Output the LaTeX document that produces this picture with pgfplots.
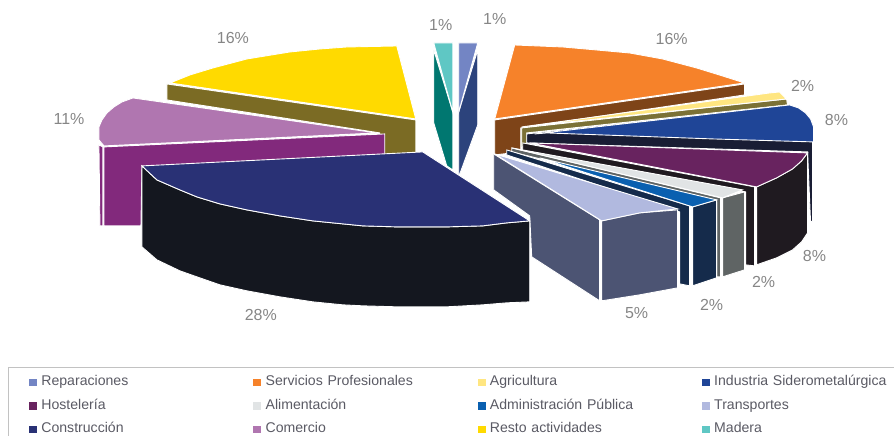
\documentclass[border=0pt]{standalone}
\usepackage{fontspec}
\setmainfont{Liberation Sans}
\usepackage{pgfplots}
\pgfplotsset{compat=1.18}
\definecolor{mad}{HTML}{5FC7C4}\definecolor{mads}{HTML}{007770}
\definecolor{rep}{HTML}{7385C4}\definecolor{reps}{HTML}{2C437C}
\definecolor{ser}{HTML}{F6822A}\definecolor{sers}{HTML}{7E4418}
\definecolor{agr}{HTML}{FFE681}\definecolor{agrs}{HTML}{7B7136}
\definecolor{ind}{HTML}{1F4597}\definecolor{inds}{HTML}{191D34}
\definecolor{hos}{HTML}{68235F}\definecolor{hoss}{HTML}{1F1A20}
\definecolor{ali}{HTML}{E1E4E5}\definecolor{alis}{HTML}{5F6464}
\definecolor{adm}{HTML}{0A60B0}\definecolor{adms}{HTML}{152B4B}
\definecolor{tra}{HTML}{B1B9DF}\definecolor{tras}{HTML}{4C5473}
\definecolor{con}{HTML}{293175}\definecolor{cons}{HTML}{14171F}
\definecolor{com}{HTML}{B076B0}\definecolor{coms}{HTML}{82297C}
\definecolor{res}{HTML}{FFDA00}\definecolor{ress}{HTML}{7B6B24}
\definecolor{lab}{HTML}{868686}\definecolor{legt}{HTML}{5A5A64}
\pgfplotsset{
  poly/.style={fill=#1,draw=white,line width=0.9pt,line join=miter,forget plot,mark=none},
  sw/.style={legend image code/.code={\fill[#1] (0pt,-3.2pt) rectangle (7pt,3.2pt);\path (12pt,0pt);}}
}
\newcommand{\pct}[2]{\node[text=lab,font=\fontsize{16}{18}\selectfont] at (axis cs:#1) {#2};}
\begin{document}
\begin{tikzpicture}
\begin{axis}[
  scale only axis,width=894pt,height=436pt,
  xmin=0,xmax=894,ymin=0,ymax=436,y dir=reverse,
  hide axis,clip=false,
  legend columns=4,
  legend style={overlay,at={(axis cs:29,376)},anchor=north west,draw=none,fill=none,inner sep=0pt,outer sep=0pt,
    font=\fontsize{14.1}{16}\selectfont,text=legt,
    row sep=10.5pt,
    nodes={anchor=west,text width=212pt,inner sep=0pt,outer sep=0pt,text height=10pt,text depth=3pt},
    /tikz/every even column/.append style={column sep=0pt}},
  legend cell align=left,
]
% frame of the legend
\addplot[draw=black!24,line width=1pt,forget plot] coordinates {(9,436)(9,368)(894,368)};
% Madera
\addplot[poly=mads] coordinates {(434,50)(453,112)(453,170)(447,166)(434,123)} --cycle;
\addplot[poly=mad] coordinates {(434,43)(453,43)(453,112)} --cycle;
% Reparaciones
\addplot[poly=reps] coordinates {(478,50)(459,112)(459,177)(478,125)} --cycle;
\addplot[poly=rep] coordinates {(459,43)(478,43)(459,112)} --cycle;
% Servicios Profesionales
\addplot[poly=sers] coordinates {(495,120)(745,84)(745,95)(521,128)(521,152)(495,155)} --cycle;
\addplot[poly=ser] coordinates {(515,45)(563,47)(597,50)(630,53)(663,59)(697,68)(723,76)(745,83)(495,119)} --cycle;
% Agricultura
\addplot[poly=agrs] coordinates {(522,128)(787,99)(788,105)(527,133)(527,145)(522,147)} --cycle;
\addplot[poly=agr] coordinates {(522,127)(770,93)(780,92)(787,99)} --cycle;
% Industria Siderometalurgica
\addplot[poly=inds] coordinates {(527,134)(790,105)(813,142)(813,221)(811,222)(808,152)(527,143)} --cycle;
\addplot[poly=ind] coordinates {(535,134)(790,105)(799,108)(806,113)(811,119)(814,127)(814,142)(713,139)(630,136)(547,133)} --cycle;
% Hosteleria
\addplot[poly=hoss] coordinates {(523,143)(755,187)(755,266)(746,265)(746,192)(523,152)} --cycle;
\addplot[poly=hoss] coordinates {(757,187)(777,178)(793,169)(802,161)(808,153)(808,233)(802,242)(793,250)(777,258)(757,265)} --cycle;
\addplot[poly=hos] coordinates {(530,143)(808,153)(802,161)(793,169)(777,178)(757,187)} --cycle;
% Alimentacion
\addplot[poly=alis] coordinates {(512,148)(721,198)(721,277)(717,277)(717,202)(512,152)} --cycle;
\addplot[poly=alis] coordinates {(723,198)(745,192)(745,270)(723,277)} --cycle;
\addplot[poly=ali] coordinates {(512,148)(743,190)(723,198)} --cycle;
% Administracion Publica
\addplot[poly=adms] coordinates {(507,150)(690,206)(690,286)(680,284)(680,212)(507,155)} --cycle;
\addplot[poly=adms] coordinates {(693,207)(717,200)(717,278)(693,286)} --cycle;
\addplot[poly=adm] coordinates {(540,158)(717,200)(693,207)} --cycle;
% Transportes
\addplot[poly=tras] coordinates {(494,154)(600,220)(600,301)(532,257)(530,216)(494,190)} --cycle;
\addplot[poly=tras] coordinates {(602,221)(640,213)(678,210)(678,288)(640,295)(602,301)} --cycle;
\addplot[poly=tra] coordinates {(495,154)(678,209)(640,213)(602,221)} --cycle;
% Resto actividades
\addplot[poly=ress] coordinates {(167,84)(416,120)(416,155)(380,155)(380,133)(167,100)} --cycle;
\addplot[poly=res] coordinates {(170,83)(190,75)(213,68)(247,59)(290,52)(320,49)(347,47)(397,46)(416,119)} --cycle;
% Comercio
\addplot[poly=coms] coordinates {(99,145)(103,147)(103,226)(100,226)} --cycle;
\addplot[poly=coms] coordinates {(104,147)(385,134)(385,155)(142,170)(141,226)(104,226)} --cycle;
\addplot[poly=com] coordinates {(133,98)(377,133)(104,146)(99,140)(99,127)(102,120)(107,113)(114,107)(122,102)} --cycle;
% Construccion
\addplot[poly=cons] coordinates {(142,166)(157,180)(180,190)(197,197)(220,204)(247,210)(280,216)(313,221)(343,224)(363,226)(397,227)(447,227)(483,226)(507,223)(530,221)(530,302)(507,303)(483,305)(447,307)(397,307)(363,306)(343,305)(313,302)(280,297)(247,291)(220,285)(197,277)(180,271)(157,260)(142,247)} --cycle;
\addplot[poly=con] coordinates {(142,166)(423,152)(530,221)(507,223)(483,226)(447,227)(397,227)(363,226)(343,224)(313,221)(280,216)(247,210)(220,204)(197,197)(180,190)(157,180)} --cycle;
% percentages
\pct{233,38}{16\%}
\pct{441,25}{1\%}
\pct{495,19}{1\%}
\pct{672,39}{16\%}
\pct{803,86}{2\%}
\pct{837,120}{8\%}
\pct{815,256}{8\%}
\pct{764,282}{2\%}
\pct{712,305}{2\%}
\pct{637,313}{5\%}
\pct{261,315}{28\%}
\pct{69,119}{11\%}
% legend
\addlegendimage{sw=rep}\addlegendentry{Reparaciones}
\addlegendimage{sw=ser}\addlegendentry{Servicios Profesionales}
\addlegendimage{sw=agr}\addlegendentry{Agricultura}
\addlegendimage{sw=ind}\addlegendentry{Industria Siderometalúrgica}
\addlegendimage{sw=hos}\addlegendentry{Hostelería}
\addlegendimage{sw=ali}\addlegendentry{Alimentación}
\addlegendimage{sw=adm}\addlegendentry{Administración Pública}
\addlegendimage{sw=tra}\addlegendentry{Transportes}
\addlegendimage{sw=con}\addlegendentry{Construcción}
\addlegendimage{sw=com}\addlegendentry{Comercio}
\addlegendimage{sw=res}\addlegendentry{Resto actividades}
\addlegendimage{sw=mad}\addlegendentry{Madera}
\path (axis cs:0,0) rectangle (axis cs:894,436);
\end{axis}
\end{tikzpicture}
\end{document}
